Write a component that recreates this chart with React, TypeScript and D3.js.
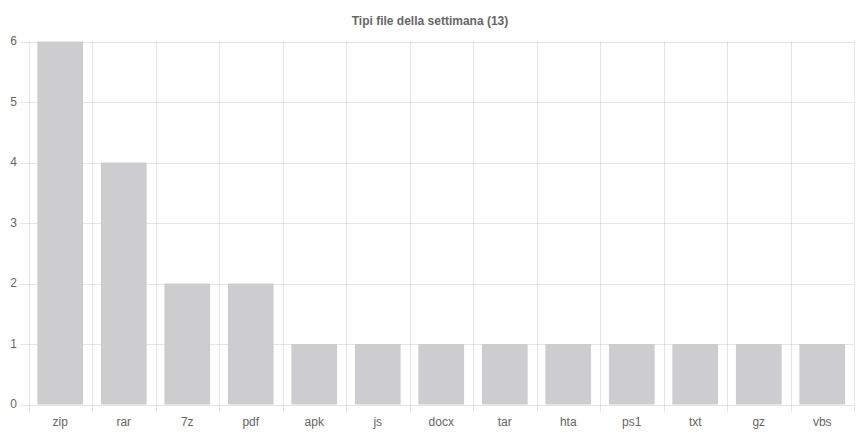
import React, { useEffect, useRef } from 'react';
import * as d3 from 'd3';

const categories = ['zip', 'rar', '7z', 'pdf', 'apk', 'js', 'docx', 'tar', 'hta', 'ps1', 'txt', 'gz', 'vbs'];
const counts = [6, 4, 2, 2, 1, 1, 1, 1, 1, 1, 1, 1, 1];
const yTicks = [0, 1, 2, 3, 4, 5, 6];
const title = 'Tipi file della settimana (13)';

const App: React.FC = () => {
  const svgRef = useRef<SVGSVGElement>(null);
  const width = 860;
  const height = 443;

  useEffect(() => {
    if (!svgRef.current) return;
    const svg = d3.select(svgRef.current);
    svg.selectAll('*').remove();

    const margin = { top: 41.5, right: 6, bottom: 38.5, left: 28.5 };
    const font = '"Liberation Sans", Arial, Helvetica, sans-serif';
    const grid = 'rgba(0,0,0,0.1)';

    const x = d3.scaleBand<string>()
      .domain(categories)
      .range([margin.left, width - margin.right]);
    const y = d3.scaleLinear()
      .domain([0, 6])
      .range([height - margin.bottom, margin.top]);

    // Title
    svg.append('text')
      .attr('x', width / 2)
      .attr('y', 25)
      .attr('text-anchor', 'middle')
      .style('font-family', font)
      .style('font-size', '12px')
      .style('font-weight', 'bold')
      .style('fill', '#666')
      .text(title);

    // Horizontal grid lines + y tick marks
    const g = svg.append('g');
    g.selectAll('.hgrid')
      .data(yTicks)
      .enter()
      .append('line')
      .attr('x1', margin.left - 8)
      .attr('x2', width - margin.right)
      .attr('y1', d => Math.round(y(d)) + 0.5)
      .attr('y2', d => Math.round(y(d)) + 0.5)
      .style('stroke', grid)
      .style('stroke-width', 1);

    // Vertical grid lines at category boundaries
    const bounds = categories.map(c => x(c) as number).concat([width - margin.right]);
    g.selectAll('.vgrid')
      .data(bounds)
      .enter()
      .append('line')
      .attr('x1', d => Math.round(d) + 0.5)
      .attr('x2', d => Math.round(d) + 0.5)
      .attr('y1', margin.top)
      .attr('y2', height - margin.bottom + 8)
      .style('stroke', grid)
      .style('stroke-width', 1);

    // Bars
    const bw = x.bandwidth() * 0.72;
    svg.append('g')
      .selectAll('rect')
      .data(categories)
      .enter()
      .append('rect')
      .attr('x', (d) => (x(d) as number) + (x.bandwidth() - bw) / 2)
      .attr('width', bw)
      .attr('y', (_, i) => y(counts[i]))
      .attr('height', (_, i) => y(0) - y(counts[i]))
      .style('fill', '#cdcdcf');

    // Y labels
    svg.append('g')
      .selectAll('text')
      .data(yTicks)
      .enter()
      .append('text')
      .attr('x', 17)
      .attr('y', d => y(d))
      .attr('dy', '0.3em')
      .attr('text-anchor', 'end')
      .style('font-family', font)
      .style('font-size', '12px')
      .style('fill', '#666')
      .text(d => String(d));

    // X labels
    svg.append('g')
      .selectAll('text')
      .data(categories)
      .enter()
      .append('text')
      .attr('x', d => (x(d) as number) + x.bandwidth() / 2)
      .attr('y', 426)
      .attr('text-anchor', 'middle')
      .style('font-family', font)
      .style('font-size', '12px')
      .style('fill', '#666')
      .text(d => d);
  }, []);

  return (
    <svg
      ref={svgRef}
      width={width}
      height={height}
      style={{ position: 'absolute', left: 0, top: 0, background: '#fff' }}
    />
  );
};

export default App;
